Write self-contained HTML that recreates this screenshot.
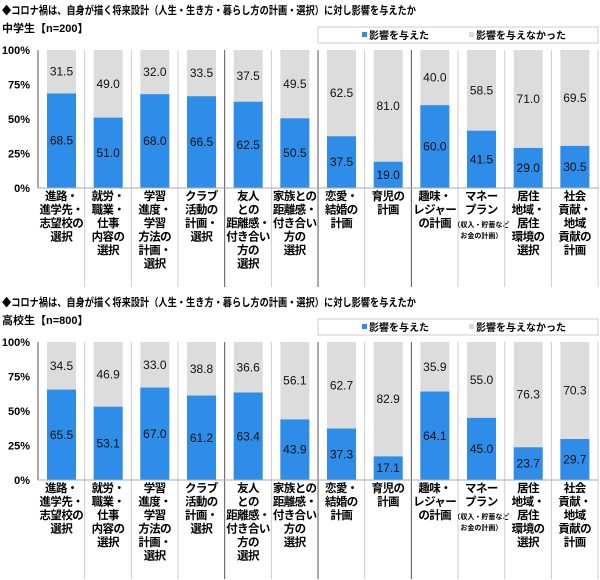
<!DOCTYPE html>
<html><head><meta charset="utf-8"><style>
body{margin:0;background:#fff;}
svg{display:block;font-family:"Liberation Sans","Noto Sans CJK JP",sans-serif;}
</style></head><body>
<svg id="c" width="600" height="580"></svg>
<script>
const categories=[
["進路・","進学先・","志望校の","選択"],
["就労・","職業・","仕事","内容の","選択"],
["学習","進度・","学習","方法の","計画・","選択"],
["クラブ","活動の","計画・","選択"],
["友人","との","距離感・","付き合い","方の","選択"],
["家族との","距離感・","付き合い","方の","選択"],
["恋愛・","結婚の","計画"],
["育児の","計画"],
["趣味・","レジャー","の計画"],
["マネー","プラン","*（収入・貯蓄など","*お金の計画）"],
["居住","地域・","居住","環境の","選択"],
["社会","貢献・","地域","貢献の","計画"]];
const jhsYes=[68.5,51.0,68.0,66.5,62.5,50.5,37.5,19.0,60.0,41.5,29.0,30.5];
const jhsNo=[31.5,49.0,32.0,33.5,37.5,49.5,62.5,81.0,40.0,58.5,71.0,69.5];
const hsYes=[65.5,53.1,67.0,61.2,63.4,43.9,37.3,17.1,64.1,45.0,23.7,29.7];
const hsNo=[34.5,46.9,33.0,38.8,36.6,56.1,62.7,82.9,35.9,55.0,76.3,70.3];
const yTicks=[0,25,50,75,100];
const darkAfter=[3,5,7];
const title="◆コロナ禍は、自身が描く将来設計（人生・生き方・暮らし方の計画・選択）に対し影響を与えたか";

const svg=document.getElementById('c');
const NS='http://www.w3.org/2000/svg';
function mk(t,a,txt){const e=document.createElementNS(NS,t);for(const k in a)e.setAttribute(k,a[k]);if(txt!=null)e.textContent=txt;svg.appendChild(e);return e;}
const X0=38,CW=46.67,BW=29,BOFF=9;
function panel(oy,sub,yes,no,key){
  const top=oy+50,bot=oy+188,H=bot-top;
  const y=v=>bot-v/100*H;
  let e=mk('text',{x:2,y:oy+14,'font-size':11,'font-weight':'bold',fill:'#000',textLength:414,lengthAdjust:'spacingAndGlyphs'},title);
  
  e=mk('text',{x:2,y:oy+32,'font-size':11,'font-weight':'bold',fill:'#000'},sub);
  
  e=mk('rect',{x:318,y:oy+27,width:280,height:16,fill:'#fff',stroke:'#ccc'});
  
  e=mk('rect',{x:362,y:oy+32,width:5,height:5,fill:'#2e8de8'});
  
  e=mk('text',{x:369,y:oy+39,'font-size':10,'font-weight':'bold'},'影響を与えた');
  
  e=mk('rect',{x:469,y:oy+32,width:5,height:5,fill:'#dcdcdc'});
  
  e=mk('text',{x:476,y:oy+39,'font-size':10,'font-weight':'bold'},'影響を与えなかった');
  
  yTicks.forEach(t=>{
    const l=mk('text',{x:30,y:y(t)+4,'font-size':11,'font-weight':'bold','text-anchor':'end'},t+'%');
    
  });
  const sepBot=oy+287;
  yes.forEach((v,i)=>{
    const cx=X0+i*CW;
    const bx=cx+BOFF;
    let r=mk('rect',{x:bx,y:y(100),width:BW,height:H,fill:'#dcdcdc'});
    
    r=mk('rect',{x:bx,y:y(v),width:BW,height:y(0)-y(v),fill:'#2e8de8'});
    
    let t=mk('text',{x:bx+BW/2,y:(y(v)+y(0))/2+4,'font-size':12,'text-anchor':'middle',fill:'#111'},v.toFixed(1));
    
    t=mk('text',{x:bx+BW/2,y:(y(100)+y(v))/2+4,'font-size':12,'text-anchor':'middle',fill:'#111'},no[i].toFixed(1));
    
    let ly=oy+200;
    categories[i].forEach(line=>{
      const small=line[0]==='*';
      const s=mk('text',{x:cx+CW/2,y:ly,'font-size':small?7:11.5,'font-weight':'bold','text-anchor':'middle','letter-spacing':small?0:-0.6},small?line.slice(1):line);
      
      ly+=small?11:13.5;
    });
    const sx=cx+CW;
    const dark=darkAfter.includes(i);
    const s=mk('line',{x1:sx,y1:top,x2:sx,y2:sepBot,stroke:dark?'#555':'#ccc','stroke-width':1});
    
  });
  const ax=mk('line',{x1:X0,y1:top,x2:X0,y2:bot,stroke:'#555'});
  
  const bx=mk('line',{x1:X0,y1:bot,x2:598,y2:bot,stroke:'#aaa'});
  
}
panel(0,"中学生【n=200】",jhsYes,jhsNo,'jhs');
panel(292,"高校生【n=800】",hsYes,hsNo,'hs');
</script>
</body></html>
